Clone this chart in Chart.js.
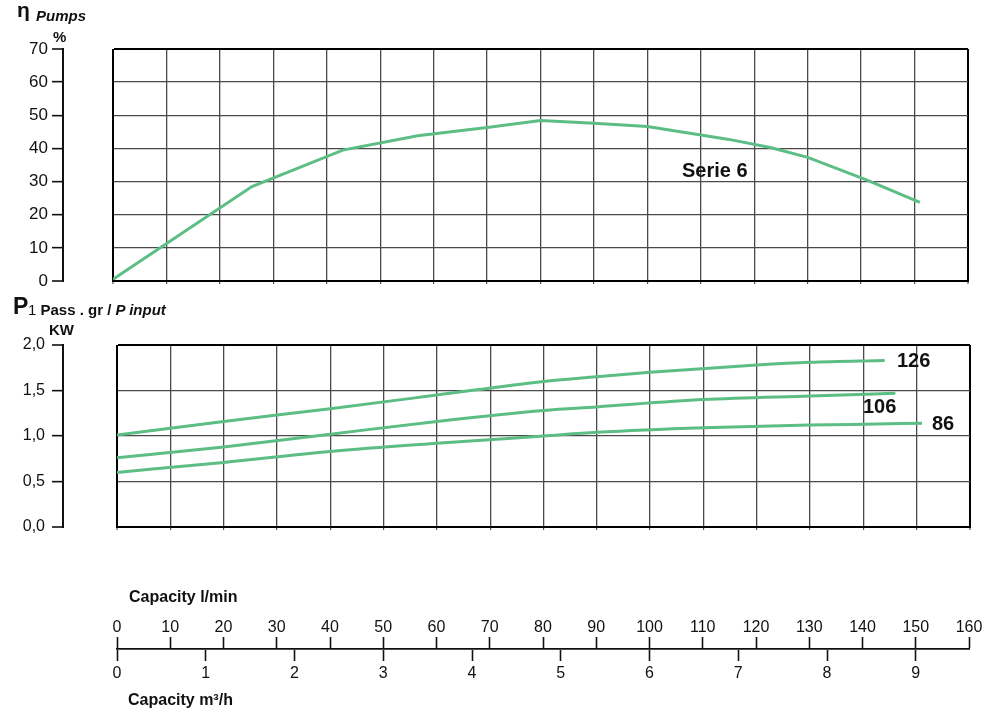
<!DOCTYPE html>
<html>
<head>
<meta charset="utf-8">
<script src="https://cdn.jsdelivr.net/npm/chart.js@4.4.1/dist/chart.umd.min.js"></script>
<style>
  html, body { margin: 0; padding: 0; background: #fff; }
  #wrap { position: relative; width: 1000px; height: 723px; overflow: hidden; background: #fff;
          font-family: 'Liberation Sans', Arial, sans-serif; color: #111; }
  canvas { position: absolute; left: 0; }
  .t { position: absolute; white-space: nowrap; line-height: 1; }
</style>
</head>
<body>
<div id="wrap">
  <canvas id="c1" width="1000" height="300" style="top:0px"></canvas>
  <canvas id="c2" width="1000" height="250" style="top:300px"></canvas>
  <canvas id="c3" width="1000" height="90" style="top:600px"></canvas>

  <div class="t" style="left:17px;top:-1px;font-size:21px;font-weight:bold;">η</div>
  <div class="t" style="left:36px;top:8px;font-size:15px;font-weight:bold;font-style:italic;">Pumps</div>
  <div class="t" style="left:53px;top:29px;font-size:15px;font-weight:bold;">%</div>

  <div class="t" style="left:13px;top:295px;font-size:23px;font-weight:bold;">P</div>
  <div class="t" style="left:28px;top:302px;font-size:15px;font-weight:bold;"><span style="font-weight:normal">1</span> Pass . gr / <i>P input</i></div>
  <div class="t" style="left:49px;top:322px;font-size:15px;font-weight:bold;">KW</div>

  <div class="t" style="left:682px;top:160px;font-size:20px;font-weight:bold;">Serie 6</div>
  <div class="t" style="left:897px;top:350px;font-size:20px;font-weight:bold;">126</div>
  <div class="t" style="left:863px;top:396px;font-size:20px;font-weight:bold;">106</div>
  <div class="t" style="left:932px;top:413px;font-size:20px;font-weight:bold;">86</div>

  <div class="t" style="left:129px;top:589px;font-size:16px;font-weight:bold;">Capacity l/min</div>
  <div class="t" style="left:128px;top:692px;font-size:16px;font-weight:bold;">Capacity m³/h</div>
</div>
<script>
// ---------- DATA ----------
const FLOW_ETA = [0, 26, 43, 57, 70, 80, 90, 100, 115, 123, 130, 141, 151];
const ETA      = [0.5, 28.5, 39.5, 43.8, 46.3, 48.4, 47.6, 46.6, 42.8, 40.3, 37.3, 30.5, 23.7];

const FLOW_P126 = [0, 20, 40, 60, 80, 90, 100, 120, 130, 144];
const P126      = [1.01, 1.16, 1.30, 1.45, 1.60, 1.65, 1.70, 1.78, 1.81, 1.83];

const FLOW_P106 = [0, 20, 40, 60, 80, 90, 110, 130, 146];
const P106      = [0.76, 0.88, 1.02, 1.16, 1.28, 1.32, 1.40, 1.44, 1.47];

const FLOW_P86  = [0, 20, 40, 60, 80, 90, 110, 130, 140, 151];
const P86       = [0.60, 0.71, 0.83, 0.92, 1.00, 1.04, 1.09, 1.12, 1.13, 1.14];

const ETA_TICKS = [0, 10, 20, 30, 40, 50, 60, 70];
const P_TICKS = [0, 0.5, 1.0, 1.5, 2.0];
const P_TICK_LABELS = ['0,0', '0,5', '1,0', '1,5', '2,0'];
const LMIN_TICKS = [0, 10, 20, 30, 40, 50, 60, 70, 80, 90, 100, 110, 120, 130, 140, 150, 160];
const M3H_TICKS = [0, 1, 2, 3, 4, 5, 6, 7, 8, 9];

// ---------- STYLE ----------
const GREEN = 'rgb(92,190,132)';
const FONT = "'Liberation Sans', Arial, sans-serif";
Chart.defaults.font.family = FONT;
Chart.defaults.color = '#111';

const zip = (xs, ys) => xs.map((x, i) => ({ x, y: ys[i] }));
const isEdge = c => c.index === 0 || c.index === c.scale.ticks.length - 1;
const gridW = c => isEdge(c) ? 2 : 1.3;
const gridC = c => isEdge(c) ? '#000' : '#4a4a4a';
const setTicks = arr => scale => { scale.ticks = arr.map(v => ({ value: v })); };

function lineDs(data, mono) {
  return {
    data, borderColor: GREEN, borderWidth: 3, pointRadius: 0, fill: false,
    tension: mono ? 0.4 : 0, cubicInterpolationMode: mono ? 'monotone' : 'default',
    yAxisID: 'y', xAxisID: 'x'
  };
}

function plotOptions(cfg) {
  return {
    responsive: false, animation: false, devicePixelRatio: 1,
    layout: { padding: { left: 0, right: cfg.padR, top: cfg.padT, bottom: cfg.padB } },
    plugins: { legend: { display: false }, tooltip: { enabled: false } },
    scales: {
      x: {
        type: 'linear', min: 0, max: 160, position: 'bottom',
        afterBuildTicks: setTicks(LMIN_TICKS),
        ticks: { display: false },
        grid: { color: gridC, lineWidth: gridW, drawTicks: true, tickLength: 3, tickColor: '#333', tickWidth: 1 },
        border: { display: true, color: '#000', width: 2 },
        afterFit: s => { s.height = 3; }
      },
      y: {
        type: 'linear', min: cfg.min, max: cfg.max, position: 'left', weight: 1,
        afterBuildTicks: setTicks(cfg.ticks),
        ticks: { padding: cfg.labPad, font: { size: cfg.fs }, color: '#111', callback: cfg.cb },
        grid: { color: gridC, lineWidth: gridW, drawTicks: true, tickLength: 11, tickColor: '#111', tickWidth: 1.6 },
        border: { display: true, color: '#111', width: 2 },
        afterFit: s => { s.width = 63; }
      },
      ys: {
        type: 'linear', min: cfg.min, max: cfg.max, position: 'left', weight: 0,
        ticks: { display: false }, grid: { display: false }, border: { display: false },
        afterFit: s => { s.width = cfg.gap; }
      }
    }
  };
}

// ---------- TOP: efficiency ----------
new Chart(document.getElementById('c1'), {
  type: 'scatter',
  data: { datasets: [ Object.assign(lineDs(zip(FLOW_ETA, ETA), false), { showLine: true }) ] },
  options: plotOptions({
    min: 0, max: 70, ticks: ETA_TICKS, fs: 17, labPad: 4, gap: 50,
    padR: 32, padT: 49, padB: 16, cb: v => String(v)
  })
});

// ---------- BOTTOM: power input ----------
new Chart(document.getElementById('c2'), {
  type: 'scatter',
  data: { datasets: [
    Object.assign(lineDs(zip(FLOW_P126, P126), true), { showLine: true }),
    Object.assign(lineDs(zip(FLOW_P106, P106), true), { showLine: true }),
    Object.assign(lineDs(zip(FLOW_P86, P86), true), { showLine: true })
  ] },
  options: plotOptions({
    min: 0, max: 2, ticks: P_TICKS, fs: 16, labPad: 7, gap: 54,
    padR: 30, padT: 45, padB: 20,
    cb: (v, i) => P_TICK_LABELS[i]
  })
});

// ---------- CAPACITY AXIS ----------
new Chart(document.getElementById('c3'), {
  type: 'scatter',
  data: { datasets: [] },
  options: {
    responsive: false, animation: false, devicePixelRatio: 1,
    layout: { padding: { left: 117, right: 31, top: 0, bottom: 0 } },
    plugins: { legend: { display: false }, tooltip: { enabled: false } },
    scales: {
      y: { display: false, min: 0, max: 1 },
      lmin: {
        type: 'linear', axis: 'x', position: 'top', min: 0, max: 160,
        afterBuildTicks: setTicks(LMIN_TICKS),
        ticks: { padding: 0, font: { size: 16 }, color: '#111', maxRotation: 0, autoSkip: false },
        grid: { display: true, drawOnChartArea: false, drawTicks: true, tickLength: 12, tickColor: '#111', tickWidth: 1.6 },
        border: { display: true, color: '#111', width: 1.8 },
        afterFit: s => { s.height = 49; }
      },
      m3h: {
        type: 'linear', axis: 'x', position: 'bottom', min: 0, max: 9.6,
        afterBuildTicks: setTicks(M3H_TICKS),
        ticks: { padding: 3, font: { size: 16 }, color: '#111', maxRotation: 0, autoSkip: false },
        grid: { display: true, drawOnChartArea: false, drawTicks: true, tickLength: 11, tickColor: '#111', tickWidth: 1.6 },
        border: { display: false },
        afterFit: s => { s.height = 40; }
      }
    }
  }
});
</script>
</body>
</html>
